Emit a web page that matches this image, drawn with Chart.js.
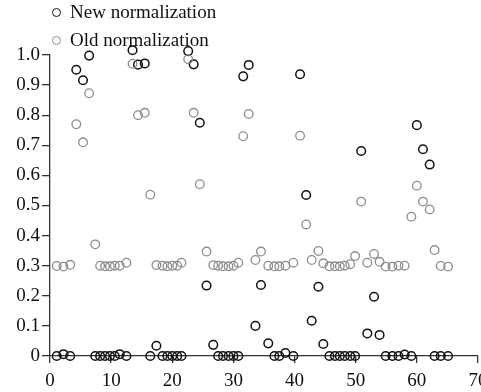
<!DOCTYPE html>
<html>
<head>
<meta charset="utf-8">
<script src="https://cdn.jsdelivr.net/npm/chart.js@4"></script>
<style>
  html, body { margin: 0; padding: 0; background: #fff; overflow: hidden; }
  #wrap { position: relative; width: 500px; height: 392px; }
  .key { position: absolute; left: 52px; font: 19px "Liberation Serif", serif; line-height: 21px; color: #111; white-space: nowrap; }
  .key i { display: inline-block; width: 7px; height: 7px; border-radius: 50%; border: 1.4px solid; margin-right: 9px; vertical-align: 1px; }
</style>
</head>
<body>
<div id="wrap">
  <canvas id="chart"></canvas>
  <div class="key" style="top:1px"><i style="border-color:#111"></i>New normalization</div>
  <div class="key" style="top:29px"><i style="border-color:#8c8c8c"></i>Old normalization</div>
</div>
<script>
const xPos = [
  1.1, 2.2, 3.3, 4.3, 5.4, 6.4, 7.4, 8.2, 9.0, 9.8, 10.6, 11.4, 12.5,
  13.5, 14.4, 15.5, 16.4, 17.4, 18.4, 19.2, 20.0, 20.8, 21.5,
  22.6, 23.5, 24.5, 25.6, 26.7, 27.5, 28.3, 29.2, 30.0, 30.8,
  31.6, 32.5, 33.6, 34.5, 35.7, 36.7, 37.5, 38.5, 39.8,
  40.9, 41.9, 42.8, 43.9, 44.7, 45.7, 46.6, 47.4, 48.2, 49.1, 49.9,
  50.9, 51.9, 53.0, 53.9, 54.9, 56.0, 57.0, 58.0, 59.1,
  60.0, 61.0, 62.1, 62.9, 63.9, 65.1
];
const newNorm = [
  0, 0.006, 0, 0.951, 0.916, 0.998, 0, 0, 0, 0, 0, 0.006, 0,
  1.016, 0.968, 0.972, 0, 0.034, 0, 0, 0, 0, 0,
  1.013, 0.969, 0.775, 0.234, 0.037, 0, 0, 0, 0, 0,
  0.929, 0.967, 0.1, 0.236, 0.042, 0, 0, 0.01, 0,
  0.936, 0.535, 0.117, 0.23, 0.04, 0, 0, 0, 0, 0, 0,
  0.681, 0.075, 0.197, 0.07, 0, 0, 0, 0.005, 0,
  0.767, 0.687, 0.636, 0, 0, 0
];
const oldNorm = [
  0.299, 0.297, 0.303, 0.77, 0.71, 0.873, 0.371, 0.30, 0.298, 0.298, 0.30, 0.30, 0.31,
  0.971, 0.80, 0.808, 0.536, 0.302, 0.30, 0.298, 0.30, 0.30, 0.31,
  0.986, 0.808, 0.571, 0.347, 0.302, 0.30, 0.298, 0.298, 0.30, 0.31,
  0.73, 0.804, 0.319, 0.347, 0.30, 0.298, 0.298, 0.30, 0.31,
  0.732, 0.437, 0.319, 0.349, 0.308, 0.298, 0.298, 0.298, 0.30, 0.305, 0.332,
  0.513, 0.31, 0.339, 0.313, 0.297, 0.297, 0.30, 0.30, 0.463,
  0.566, 0.513, 0.487, 0.352, 0.299, 0.297
];
const xTicks = [0, 10, 20, 30, 40, 50, 60, 70];

const FONT = { family: '"Liberation Serif", serif', size: 19 };
const AXIS = '#333';

function points(values) {
  return xPos.map((x, i) => ({ x, y: values[i] }));
}

new Chart(document.getElementById('chart'), {
  type: 'scatter',
  data: {
    datasets: [
      {
        label: 'Old normalization',
        data: points(oldNorm),
        borderColor: '#8c8c8c',
        backgroundColor: 'transparent',
        borderWidth: 1.3,
        pointRadius: 4.3,
        clip: false
      },
      {
        label: 'New normalization',
        data: points(newNorm),
        borderColor: '#111',
        backgroundColor: 'transparent',
        borderWidth: 1.5,
        pointRadius: 4.3,
        clip: false
      }
    ]
  },
  options: {
    responsive: true,
    maintainAspectRatio: false,
    animation: false,
    layout: { padding: { top: 55, right: 22, left: 0, bottom: 0 } },
    plugins: { legend: { display: false }, tooltip: { enabled: false } },
    scales: {
      x: {
        type: 'linear',
        min: 0,
        max: 70,
        afterBuildTicks: (scale) => { scale.ticks = xTicks.map(v => ({ value: v })); },
        afterFit: (scale) => { scale.height = 36; },
        ticks: { font: FONT, color: '#111', padding: 7, maxRotation: 0 },
        grid: { drawOnChartArea: false, drawTicks: true, tickLength: 7, color: AXIS, lineWidth: 1.3 },
        border: { display: true, color: AXIS, width: 1.3 }
      },
      y: {
        min: 0,
        max: 1,
        afterFit: (scale) => { scale.width = 50; },
        ticks: {
          stepSize: 0.1,
          font: FONT,
          color: '#111',
          padding: 2,
          callback: (v) => (Math.abs(v) < 1e-9 ? '0' : Number(v).toFixed(1))
        },
        grid: { drawOnChartArea: false, drawTicks: true, tickLength: 8, color: AXIS, lineWidth: 1.3 },
        border: { display: true, color: AXIS, width: 1.3 }
      }
    }
  }
});
</script>
</body>
</html>
